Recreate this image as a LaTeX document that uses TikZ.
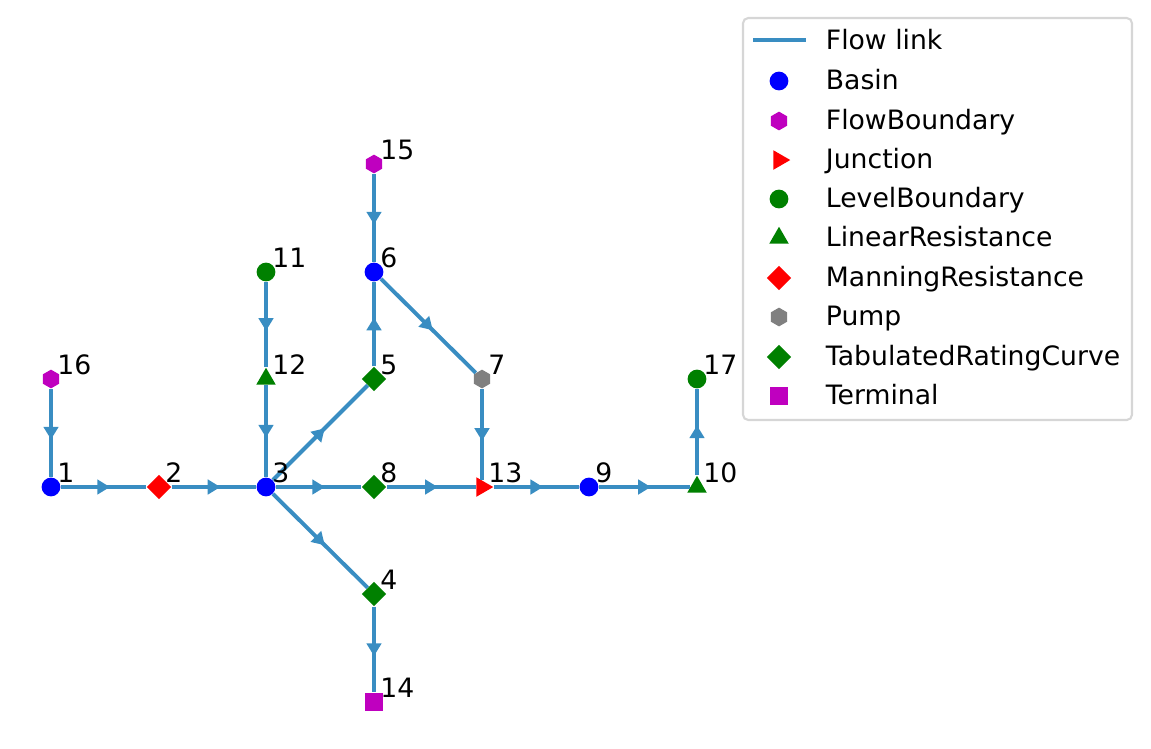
\documentclass[tikz,border=0pt]{standalone}
\usepackage{fontspec}
\setmainfont{DejaVu Sans}
\usepackage{tikz}
\usetikzlibrary{shapes.geometric,decorations.markings,positioning}
\usepackage{xcolor}
\definecolor{flowblue}{RGB}{57,141,194}
\definecolor{mgreen}{RGB}{0,128,0}
\definecolor{mmagenta}{RGB}{191,0,191}
\definecolor{mgrey}{RGB}{128,128,128}
\definecolor{framegrey}{RGB}{214,214,214}
\tikzstyle{flow} = [draw=flowblue, line width=1.9pt, postaction={decorate}, decoration={markings, mark=at position 0.5 with {\fill[flowblue] (3pt,0pt) -- (-3pt,3.7pt) -- (-3pt,-3.7pt) -- cycle;}}]
\tikzstyle{flowline} = [draw=flowblue, line width=1.9pt]
\tikzstyle{basin} = [circle, fill=blue, minimum size=9pt, inner sep=0pt]
\tikzstyle{levelbound} = [circle, fill=mgreen, minimum size=9pt, inner sep=0pt]
\tikzstyle{flowbound} = [regular polygon, regular polygon sides=6, shape border rotate=30, fill=mmagenta, minimum size=9pt, inner sep=0pt]
\tikzstyle{pump} = [regular polygon, regular polygon sides=6, shape border rotate=30, fill=mgrey, minimum size=9pt, inner sep=0pt]
\tikzstyle{linres} = [regular polygon, regular polygon sides=3, fill=mgreen, minimum size=10.8pt, inner sep=0pt]
\tikzstyle{junction} = [regular polygon, regular polygon sides=3, shape border rotate=-90, fill=red, minimum size=10.8pt, inner sep=0pt]
\tikzstyle{manning} = [diamond, fill=red, minimum size=11.8pt, inner sep=0pt]
\tikzstyle{ratingcurve} = [diamond, fill=mgreen, minimum size=11.8pt, inner sep=0pt]
\tikzstyle{terminal} = [rectangle, fill=mmagenta, minimum size=8.8pt, inner sep=0pt]
\tikzstyle{numlabel} = [anchor=base west, inner sep=0pt, font=\fontsize{12.8}{15}\selectfont]
\tikzstyle{legendtext} = [anchor=base west, inner sep=0pt, font=\fontsize{12.8}{15}\selectfont]
\tikzstyle{legendframe} = [draw=framegrey, line width=1pt, rounded corners=2.5pt, fill=white]

\begin{document}
\begin{tikzpicture}[x=0.48pt, y=-0.48pt]
\useasboundingbox (0,0) rectangle (1151,748);
% Network nodes
\node (n1) [basin] at (51,487) {};
\node (n2) [manning] at (159,487) {};
\node (n3) [basin] at (266,487) {};
\node (n4) [ratingcurve] at (374,594) {};
\node (n5) [ratingcurve] at (374,379) {};
\node (n6) [basin] at (374,272) {};
\node (n7) [pump] at (482,379) {};
\node (n8) [ratingcurve] at (374,487) {};
\node (n9) [basin] at (589,487) {};
\node (n10) [linres] at (697,487) {};
\node (n11) [levelbound] at (266,272) {};
\node (n12) [linres] at (266,379) {};
\node (n13) [junction] at (482,487) {};
\node (n14) [terminal] at (374,702) {};
\node (n15) [flowbound] at (374,164) {};
\node (n16) [flowbound] at (51,379) {};
\node (n17) [levelbound] at (697,379) {};

% Flow links
\draw[flow] (n16) -- (n1);
\draw[flow] (n1) -- (n2);
\draw[flow] (n2) -- (n3);
\draw[flow] (n3) -- (n5);
\draw[flow] (n3) -- (n8);
\draw[flow] (n3) -- (n4);
\draw[flow] (n11) -- (n12);
\draw[flow] (n12) -- (n3);
\draw[flow] (n15) -- (n6);
\draw[flow] (n5) -- (n6);
\draw[flow] (n6) -- (n7);
\draw[flow] (n7) -- (n13);
\draw[flow] (n8) -- (n13);
\draw[flow] (n13) -- (n9);
\draw[flow] (n9) -- (n10);
\draw[flow] (n10) -- (n17);
\draw[flow] (n4) -- (n14);

% Node ids
\node (t1) [numlabel] at (57,482.5) {1};
\node (t2) [numlabel] at (165,482.5) {2};
\node (t3) [numlabel] at (272,482.5) {3};
\node (t4) [numlabel] at (380,589.5) {4};
\node (t5) [numlabel] at (380,374.5) {5};
\node (t6) [numlabel] at (380,267.5) {6};
\node (t7) [numlabel] at (488,374.5) {7};
\node (t8) [numlabel] at (380,482.5) {8};
\node (t9) [numlabel] at (595,482.5) {9};
\node (t10) [numlabel] at (703,482.5) {10};
\node (t11) [numlabel] at (272,267.5) {11};
\node (t12) [numlabel] at (272,374.5) {12};
\node (t13) [numlabel] at (488,482.5) {13};
\node (t14) [numlabel] at (380,697.5) {14};
\node (t15) [numlabel] at (380,159.5) {15};
\node (t16) [numlabel] at (57,374.5) {16};
\node (t17) [numlabel] at (703,374.5) {17};

% Legend
\draw[legendframe] (743,18) rectangle (1132,420);
\coordinate (lgstart) at (753,40);
\coordinate (lgend) at (806,40);
\draw[flowline] (lgstart) -- (lgend);
\node (lgflowtext) [legendtext] at (825.5,49.5) {Flow link};
\node (lgbasin) [basin] at (779,81) {};
\node (lgbasintext) [legendtext] at (825.5,89) {Basin};
\node (lgflowbound) [flowbound] at (779,121) {};
\node (lgflowboundtext) [legendtext] at (825.5,129) {FlowBoundary};
\node (lgjunction) [junction] at (779,160) {};
\node (lgjunctiontext) [legendtext] at (825.5,168) {Junction};
\node (lglevelbound) [levelbound] at (779,199) {};
\node (lglevelboundtext) [legendtext] at (825.5,207) {LevelBoundary};
\node (lglinres) [linres] at (779,238) {};
\node (lglinrestext) [legendtext] at (825.5,246) {LinearResistance};
\node (lgmanning) [manning] at (779,278) {};
\node (lgmanningtext) [legendtext] at (825.5,286) {ManningResistance};
\node (lgpump) [pump] at (779,317) {};
\node (lgpumptext) [legendtext] at (825.5,325) {Pump};
\node (lgrating) [ratingcurve] at (779,357) {};
\node (lgratingtext) [legendtext] at (825.5,365) {TabulatedRatingCurve};
\node (lgterminal) [terminal] at (779,396) {};
\node (lgterminaltext) [legendtext] at (825.5,404) {Terminal};
\end{tikzpicture}
\end{document}
